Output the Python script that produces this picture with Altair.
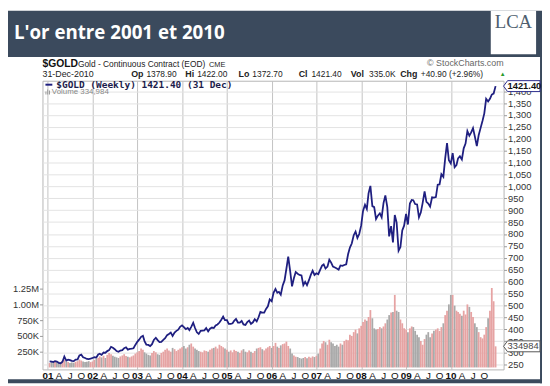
import altair as alt
import pandas as pd
import numpy as np

years = list(range(2001, 2011))

# semi-monthly gold closes (USD/oz)
price_2001 = [265, 264, 262, 266, 264, 258, 257, 263, 285, 268, 272, 270, 267, 266, 272, 273, 290, 293, 282, 279, 275, 274, 276, 279]
price_2002 = [282, 281, 294, 297, 292, 302, 301, 308, 312, 326, 322, 316, 308, 305, 310, 312, 320, 324, 314, 317, 318, 320, 334, 347]
price_2003 = [356, 368, 372, 350, 335, 334, 329, 337, 355, 364, 354, 346, 347, 355, 362, 375, 380, 386, 372, 386, 393, 398, 410, 416]
price_2004 = [409, 400, 405, 396, 410, 427, 405, 387, 380, 393, 394, 395, 405, 391, 402, 407, 405, 416, 420, 428, 440, 453, 438, 438]
price_2005 = [422, 422, 425, 435, 443, 428, 428, 435, 420, 418, 430, 436, 422, 429, 442, 433, 450, 473, 470, 470, 485, 496, 525, 517]
price_2006 = [553, 569, 553, 557, 545, 584, 605, 654, 705, 643, 580, 614, 640, 633, 628, 626, 585, 599, 585, 606, 628, 646, 628, 635]
price_2007 = [631, 650, 667, 672, 655, 663, 692, 680, 663, 659, 655, 650, 668, 666, 670, 673, 715, 743, 760, 795, 810, 783, 800, 836]
price_2008 = [897, 923, 905, 971, 1002, 917, 913, 863, 877, 887, 870, 930, 962, 913, 790, 833, 765, 880, 848, 730, 745, 815, 835, 884]
price_2009 = [840, 928, 943, 942, 926, 924, 870, 890, 930, 979, 935, 928, 915, 954, 953, 955, 1007, 1008, 1051, 1040, 1118, 1182, 1110, 1096]
price_2010 = [1140, 1081, 1090, 1118, 1127, 1113, 1160, 1180, 1233, 1213, 1227, 1245, 1209, 1169, 1215, 1246, 1275, 1307, 1368, 1357, 1368, 1386, 1390, 1421.4]

# semi-monthly volume (thousands of contracts)
vol_2001 = [70, 95, 80, 105, 85, 90, 75, 110, 120, 95, 85, 70, 80, 75, 90, 100, 125, 110, 95, 85, 90, 100, 85, 95]
vol_2002 = [120, 140, 150, 175, 160, 185, 150, 200, 230, 210, 185, 170, 160, 150, 175, 190, 210, 180, 170, 160, 175, 190, 220, 240]
vol_2003 = [260, 300, 280, 240, 220, 200, 190, 230, 260, 240, 210, 200, 230, 250, 280, 300, 270, 250, 310, 290, 260, 280, 300, 320]
vol_2004 = [340, 300, 320, 360, 380, 330, 300, 280, 260, 250, 240, 270, 260, 250, 280, 300, 310, 330, 300, 360, 340, 320, 300, 280]
vol_2005 = [250, 270, 240, 280, 260, 250, 230, 270, 290, 250, 240, 270, 250, 230, 260, 300, 310, 320, 290, 270, 300, 320, 340, 310]
vol_2006 = [340, 390, 330, 310, 350, 370, 380, 410, 340, 300, 220, 190, 170, 165, 150, 140, 150, 165, 145, 170, 155, 175, 165, 185]
vol_2007 = [220, 300, 380, 420, 400, 360, 440, 400, 380, 340, 360, 330, 380, 360, 420, 440, 430, 520, 500, 560, 600, 540, 620, 660]
vol_2008 = [720, 760, 740, 800, 910, 780, 620, 600, 610, 640, 620, 650, 700, 760, 830, 870, 880, 1150, 900, 880, 760, 700, 620, 600]
vol_2009 = [560, 620, 650, 640, 580, 520, 480, 420, 360, 450, 520, 560, 480, 540, 580, 600, 620, 580, 640, 700, 830, 900, 1000, 1150]
vol_2010 = [1150, 980, 900, 880, 850, 820, 900, 840, 1000, 960, 880, 800, 700, 640, 560, 480, 460, 520, 640, 780, 900, 1260, 1050, 334.984]

quarter_months = [1, 4, 7, 10]
quarter_letters = {4: "A", 7: "J", 10: "O"}
price_ticks = list(range(250, 1401, 50))
volume_ticks = [250000, 500000, 750000, 1000000, 1250000]

header = {"date": "31-Dec-2010", "Op": "1378.90", "Hi": "1422.00", "Lo": "1372.70",
          "Cl": "1421.40", "Vol": "335.0K", "Chg": "+40.90 (+2.96%)"}

prices = sum([price_2001, price_2002, price_2003, price_2004, price_2005,
              price_2006, price_2007, price_2008, price_2009, price_2010], [])
vols = sum([vol_2001, vol_2002, vol_2003, vol_2004, vol_2005,
            vol_2006, vol_2007, vol_2008, vol_2009, vol_2010], [])

dates = []
for y in years:
    for m in range(1, 13):
        dates.append(pd.Timestamp(y, m, 15))
        dates.append(pd.Timestamp(y, m, 1) + pd.offsets.MonthEnd(0))

df = pd.DataFrame({"date": dates, "price": prices, "volume": [v * 1000 for v in vols]})
df["dir"] = np.where(df["price"].diff().fillna(1) >= 0, "up", "down")
last = df.tail(1).copy()

year_lbl = pd.DataFrame({"date": [pd.Timestamp(y, 1, 1) for y in years],
                         "label": [f"{y % 100:02d}" for y in years]})
month_lbl = pd.DataFrame({"date": [pd.Timestamp(y, m, 1) for y in years for m in (4, 7, 10)],
                          "label": [quarter_letters[m] for y in years for m in (4, 7, 10)]})

X_DOMAIN = [alt.DateTime(year=2000, month=12, date=28), alt.DateTime(year=2011, month=1, date=25)]
P_DOMAIN = [231, 1444]
V_DOMAIN = [-31250, 4546875]
W, H = 468, 293

xscale = alt.Scale(domain=X_DOMAIN)
quarters = [alt.DateTime(year=y, month=m, date=1) for y in years for m in quarter_months]

x_axis = alt.Axis(
    values=quarters, title=None, ticks=False, domain=False, grid=True, zindex=0, labels=False,
    gridColor={"condition": {"test": "month(datum.value) == 0", "value": "#c2c2c2"}, "value": "#e3e3e3"},
)

one = pd.DataFrame({"k": [0]})


def txt(s, x, y, size=9, weight="normal", color="#222", font="Liberation Sans",
        align="left", baseline="alphabetic"):
    return alt.Chart(one).mark_text(
        text=s, fontSize=size, fontWeight=weight, color=color, font=font,
        align=align, baseline=baseline
    ).encode(x=alt.value(x), y=alt.value(y))


def box(x1, x2, y1, y2, color):
    return alt.Chart(one).mark_rect(color=color).encode(
        x=alt.value(x1), x2=alt.value(x2), y=alt.value(y1), y2=alt.value(y2))


DARK = "#3b4a5d"

bg = [
    box(-35, 507, -71, -24, DARK),
    box(505, 507, -24, 307, DARK),
    box(-35, 507, 303, 307, DARK),
    box(455, 501, -71, -27, "white"),
]

bars = alt.Chart(df).mark_bar(width=1.8).encode(
    x=alt.X("date:T", scale=xscale, axis=x_axis),
    y=alt.Y("volume:Q", scale=alt.Scale(domain=V_DOMAIN, zero=False, nice=False),
            axis=alt.Axis(orient="left", values=volume_ticks, title=None, grid=False, zindex=0,
                          domain=False, tickSize=3, tickColor="#999",
                          labelExpr="datum.value >= 1000000 ? format(datum.value / 1000000, '.2f') + 'M' : format(datum.value / 1000, 'd') + 'K'",
                          labelFont="Liberation Sans", labelFontSize=9.5, labelColor="#333", labelPadding=1)),
    y2=alt.datum(0),
    color=alt.Color("dir:N", scale=alt.Scale(domain=["up", "down"], range=["#e6a3a3", "#a9a9a9"]), legend=None),
)

line = alt.Chart(df).mark_line(color="#1f1f80", strokeWidth=1.8).encode(
    x=alt.X("date:T", scale=xscale),
    y=alt.Y("price:Q", scale=alt.Scale(domain=P_DOMAIN, zero=False, nice=False),
            axis=alt.Axis(orient="right", values=price_ticks, title=None, grid=True, zindex=0,
                          gridColor="#e3e3e3", domain=False, tickSize=3, tickColor="#999",
                          labelFont="Liberation Sans", labelFontSize=9.5, labelColor="#333",
                          labelPadding=1)),
)

x_years = alt.Chart(year_lbl).mark_text(fontWeight="bold", fontSize=10, font="Liberation Sans",
                                        color="#111", baseline="top").encode(
    x=alt.X("date:T", scale=xscale), y=alt.value(H + 2), text="label:N")
x_months = alt.Chart(month_lbl).mark_text(fontSize=10, font="Liberation Sans",
                                          color="#111", baseline="top").encode(
    x=alt.X("date:T", scale=xscale), y=alt.value(H + 2), text="label:N")

arrow_shape = "M -1 0 L -0.78 -0.3 L 1 -0.3 L 1 0.3 L -0.78 0.3 Z"

price_box = alt.Chart(last).mark_point(shape=arrow_shape, size=37 * 37, filled=True,
                                       fill="white", stroke="#2a2a8a", strokeWidth=1, opacity=1).encode(
    x=alt.value(W + 18.5),
    y=alt.Y("price:Q", scale=alt.Scale(domain=P_DOMAIN, zero=False, nice=False), axis=None),
)
price_lbl = alt.Chart(last).mark_text(align="left", baseline="middle", fontSize=9.5, fontWeight="bold",
                                      font="Liberation Sans", color="#111").encode(
    x=alt.value(W + 4),
    y=alt.Y("price:Q", scale=alt.Scale(domain=P_DOMAIN, zero=False, nice=False), axis=None),
    text=alt.Text("price:Q", format=".2f"),
)
vol_box = alt.Chart(last).mark_point(shape=arrow_shape, size=37 * 37, filled=True,
                                     fill="white", stroke="#555", strokeWidth=1, opacity=1).encode(
    x=alt.value(W + 18.5),
    y=alt.Y("volume:Q", scale=alt.Scale(domain=V_DOMAIN, zero=False, nice=False), axis=None),
)
vol_lbl = alt.Chart(last).mark_text(align="left", baseline="middle", fontSize=9.5,
                                    font="Liberation Sans", color="#444").encode(
    x=alt.value(W + 4),
    y=alt.Y("volume:Q", scale=alt.Scale(domain=V_DOMAIN, zero=False, nice=False), axis=None),
    text=alt.Text("volume:Q", format="d"),
)

legend_rule = alt.Chart(one).mark_rule(color="#1f1f80", strokeWidth=2).encode(
    x=alt.value(3), x2=alt.value(10), y=alt.value(4))
vol_icon = [box(3, 4, 11, 14, "#999"), box(4.8, 5.8, 9, 14, "#999"), box(6.6, 7.6, 10, 14, "#999")]

texts = [
    txt("L'or entre 2001 et 2010", -29, -42.5, size=19, weight="bold", color="white", font="Open Sans"),
    txt("LCA", 478, -54, size=19, color="#4f5f70", font="Liberation Serif", align="center"),
    txt("$GOLD", 0, -14, size=10.5, weight="bold", color="#111"),
    txt("Gold - Continuous Contract (EOD)", 36, -14, size=8.5, color="#222"),
    txt("CME", 169, -14, size=7.5, color="#222"),
    txt("© StockCharts.com", 468, -15, size=9, color="#666", align="right"),
    txt(header["date"], 0, -4, size=9),
    txt("Op", 90, -4, size=9, weight="bold"), txt(header["Op"], 105.5, -4, size=8.5),
    txt("Hi", 145, -4, size=9, weight="bold"), txt(header["Hi"], 157, -4, size=8.5),
    txt("Lo", 199, -4, size=9, weight="bold"), txt(header["Lo"], 213, -4, size=8.5),
    txt("Cl", 260, -4, size=9, weight="bold"), txt(header["Cl"], 273, -4, size=8.5),
    txt("Vol", 313, -4, size=9, weight="bold"), txt(header["Vol"], 331.5, -4, size=8.5),
    txt("Chg", 363, -4, size=9, weight="bold"), txt(header["Chg"], 384, -4, size=8.5),
    txt("▲", 464, -5, size=6, color="#2a9a2a"),
    txt("$GOLD (Weekly) 1421.40 (31 Dec)", 14, 4, size=9.6, weight="bold", color="#1c1c4c",
        font="DejaVu Sans Mono", baseline="middle"),
    txt("Volume 334,984", 9.5, 11.5, size=8, color="#888", baseline="middle"),
]

chart = alt.layer(
    *bg, bars, line, x_years, x_months, price_box, price_lbl, vol_box, vol_lbl,
    legend_rule, *vol_icon, *texts
).resolve_scale(y="independent").properties(
    width=W, height=H, background="white",
    padding={"left": 35, "top": 71, "right": 39, "bottom": 14},
    autosize=alt.AutoSizeParams(type="none"),
).configure_view(stroke="#b5b5b5", strokeWidth=1)

chart.save("out.html", embed_options={"renderer": "svg", "actions": False})
